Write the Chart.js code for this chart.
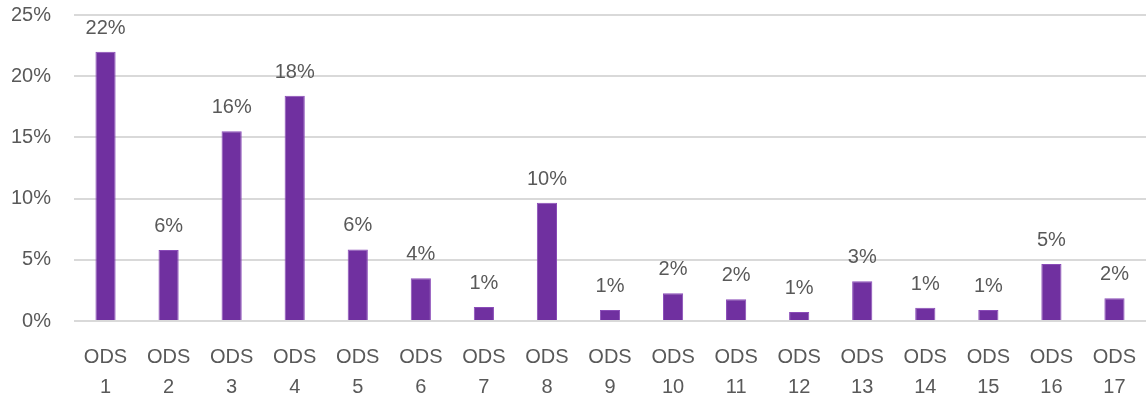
<!DOCTYPE html>
<html>
<head>
<meta charset="utf-8">
<script src="https://cdn.jsdelivr.net/npm/chart.js@4/dist/chart.umd.min.js"></script>
<style>
html,body{margin:0;padding:0;background:#fff;}
#wrap{width:1146px;height:402px;position:relative;}
</style>
</head>
<body>
<div id="wrap"><canvas id="c" width="1146" height="402"></canvas></div>
<script>
const categories = ["ODS 1","ODS 2","ODS 3","ODS 4","ODS 5","ODS 6","ODS 7","ODS 8","ODS 9","ODS 10","ODS 11","ODS 12","ODS 13","ODS 14","ODS 15","ODS 16","ODS 17"];
const values = [22.0, 5.8, 15.5, 18.4, 5.85, 3.5, 1.15, 9.67, 0.9, 2.27, 1.78, 0.74, 3.25, 1.09, 0.9, 4.66, 1.86];
const valueLabels = ["22%","6%","16%","18%","6%","4%","1%","10%","1%","2%","2%","1%","3%","1%","1%","5%","2%"];
const yTicks = [0, 5, 10, 15, 20, 25];

const FONT = "'Liberation Sans', Arial, sans-serif";
const TEXT = '#595959';

const labelPlugin = {
  id: 'barLabels',
  afterDatasetsDraw(chart) {
    const ctx = chart.ctx;
    const meta = chart.getDatasetMeta(0);
    ctx.save();
    ctx.font = '20px ' + FONT;
    ctx.fillStyle = TEXT;
    ctx.textAlign = 'center';
    ctx.textBaseline = 'alphabetic';
    meta.data.forEach((bar, i) => {
      ctx.fillText(valueLabels[i], bar.x, bar.y - 18);
    });
    ctx.restore();
  }
};

new Chart(document.getElementById('c'), {
  type: 'bar',
  data: {
    labels: categories.map(c => c.split(' ')),
    datasets: [{
      data: values,
      backgroundColor: '#7030a0',
      borderColor: '#8a4cb8',
      borderWidth: 1,
      barPercentage: 0.64,
      categoryPercentage: 0.5
    }]
  },
  options: {
    responsive: false,
    animation: false,
    devicePixelRatio: 1,
    layout: { padding: { top: 15, right: 0, left: 0, bottom: 0 } },
    plugins: { legend: { display: false }, tooltip: { enabled: false } },
    scales: {
      x: {
        grid: { display: false, drawTicks: false },
        border: { display: false },
        ticks: {
          color: TEXT,
          font: { family: FONT, size: 20, lineHeight: 1.5 },
          padding: 21,
          maxRotation: 0,
          autoSkip: false
        },
        afterFit(scale) { scale.height = 81; scale.paddingLeft = 0; scale.paddingRight = 0; }
      },
      y: {
        min: 0, max: 25,
        afterBuildTicks(scale) { scale.ticks = yTicks.map(v => ({ value: v })); },
        grid: { color: '#d9d9d9', lineWidth: 2, drawTicks: false },
        border: { display: false },
        ticks: {
          color: TEXT,
          font: { family: FONT, size: 20 },
          padding: 23,
          callback: v => v + '%'
        },
        afterFit(scale) { scale.width = 74; scale.paddingTop = 0; scale.paddingBottom = 0; }
      }
    }
  },
  plugins: [labelPlugin]
});
</script>
</body>
</html>
